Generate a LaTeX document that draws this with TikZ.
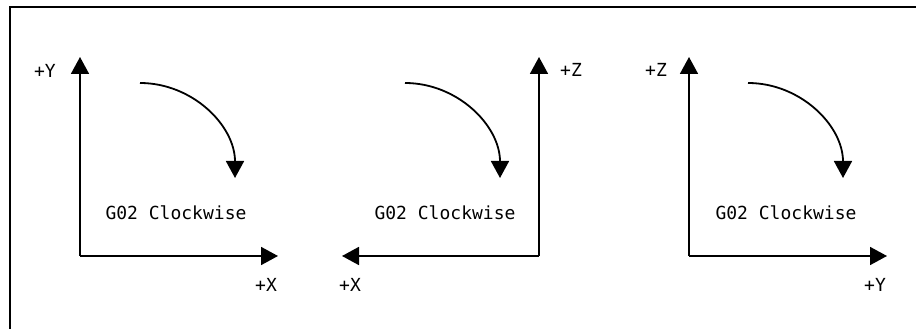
\documentclass[tikz,border=0pt]{standalone}
\usepackage{fontspec}
\setmonofont{DejaVu Sans Mono}
\usetikzlibrary{arrows.meta}

\begin{document}
\begin{tikzpicture}[x=1pt,y=1pt]
	\tikzset{
		axis/.style={line width=1.8pt,-{Triangle[length=17pt,width=18pt]}},
		turn/.style={line width=1.8pt,-{Triangle[length=17pt,width=18pt]}},
		lbl/.style={font=\ttfamily\fontsize{18}{18}\selectfont,inner sep=0pt}
	}
	\useasboundingbox (0,0) rectangle (916,329);
	
	% Frame
	\draw[line width=2pt] (10,0) -- (10,322) -- (916,322);
	
	% Origins and axis ends
	\coordinate (o1) at (80,73);
	\coordinate (y1) at (80,272);
	\coordinate (x1) at (278,73);
	\coordinate (o2) at (539,73);
	\coordinate (z2) at (539,272);
	\coordinate (x2) at (342,73);
	\coordinate (o3) at (689,73);
	\coordinate (z3) at (689,272);
	\coordinate (y3) at (887,73);
	
	% Axes
	\draw[axis] (o1) -- (y1);
	\draw[axis] (o1) -- (x1);
	\draw[axis] (o2) -- (z2);
	\draw[axis] (o2) -- (x2);
	\draw[axis] (o3) -- (z3);
	\draw[axis] (o3) -- (y3);
	
	% Arcs for rotation
	\coordinate (a1) at (140,246);
	\coordinate (a2) at (405,246);
	\coordinate (a3) at (748,246);
	\draw[turn] (a1) arc[start angle=90,end angle=0,radius=95];
	\draw[turn] (a2) arc[start angle=90,end angle=0,radius=95];
	\draw[turn] (a3) arc[start angle=90,end angle=0,radius=95];
	
	% Labels
	\node[lbl] (ly1) at (45,258) {+Y};
	\node[lbl] (lx1) at (266,44) {+X};
	\node[lbl] (lz2) at (571,259) {+Z};
	\node[lbl] (lx2) at (350,44) {+X};
	\node[lbl] (lz3) at (656,259) {+Z};
	\node[lbl] (ly3) at (875,44) {+Y};
	\node[lbl] (g1) at (176,116) {G02 Clockwise};
	\node[lbl] (g2) at (445,116) {G02 Clockwise};
	\node[lbl] (g3) at (786,116) {G02 Clockwise};
\end{tikzpicture}
\end{document}
